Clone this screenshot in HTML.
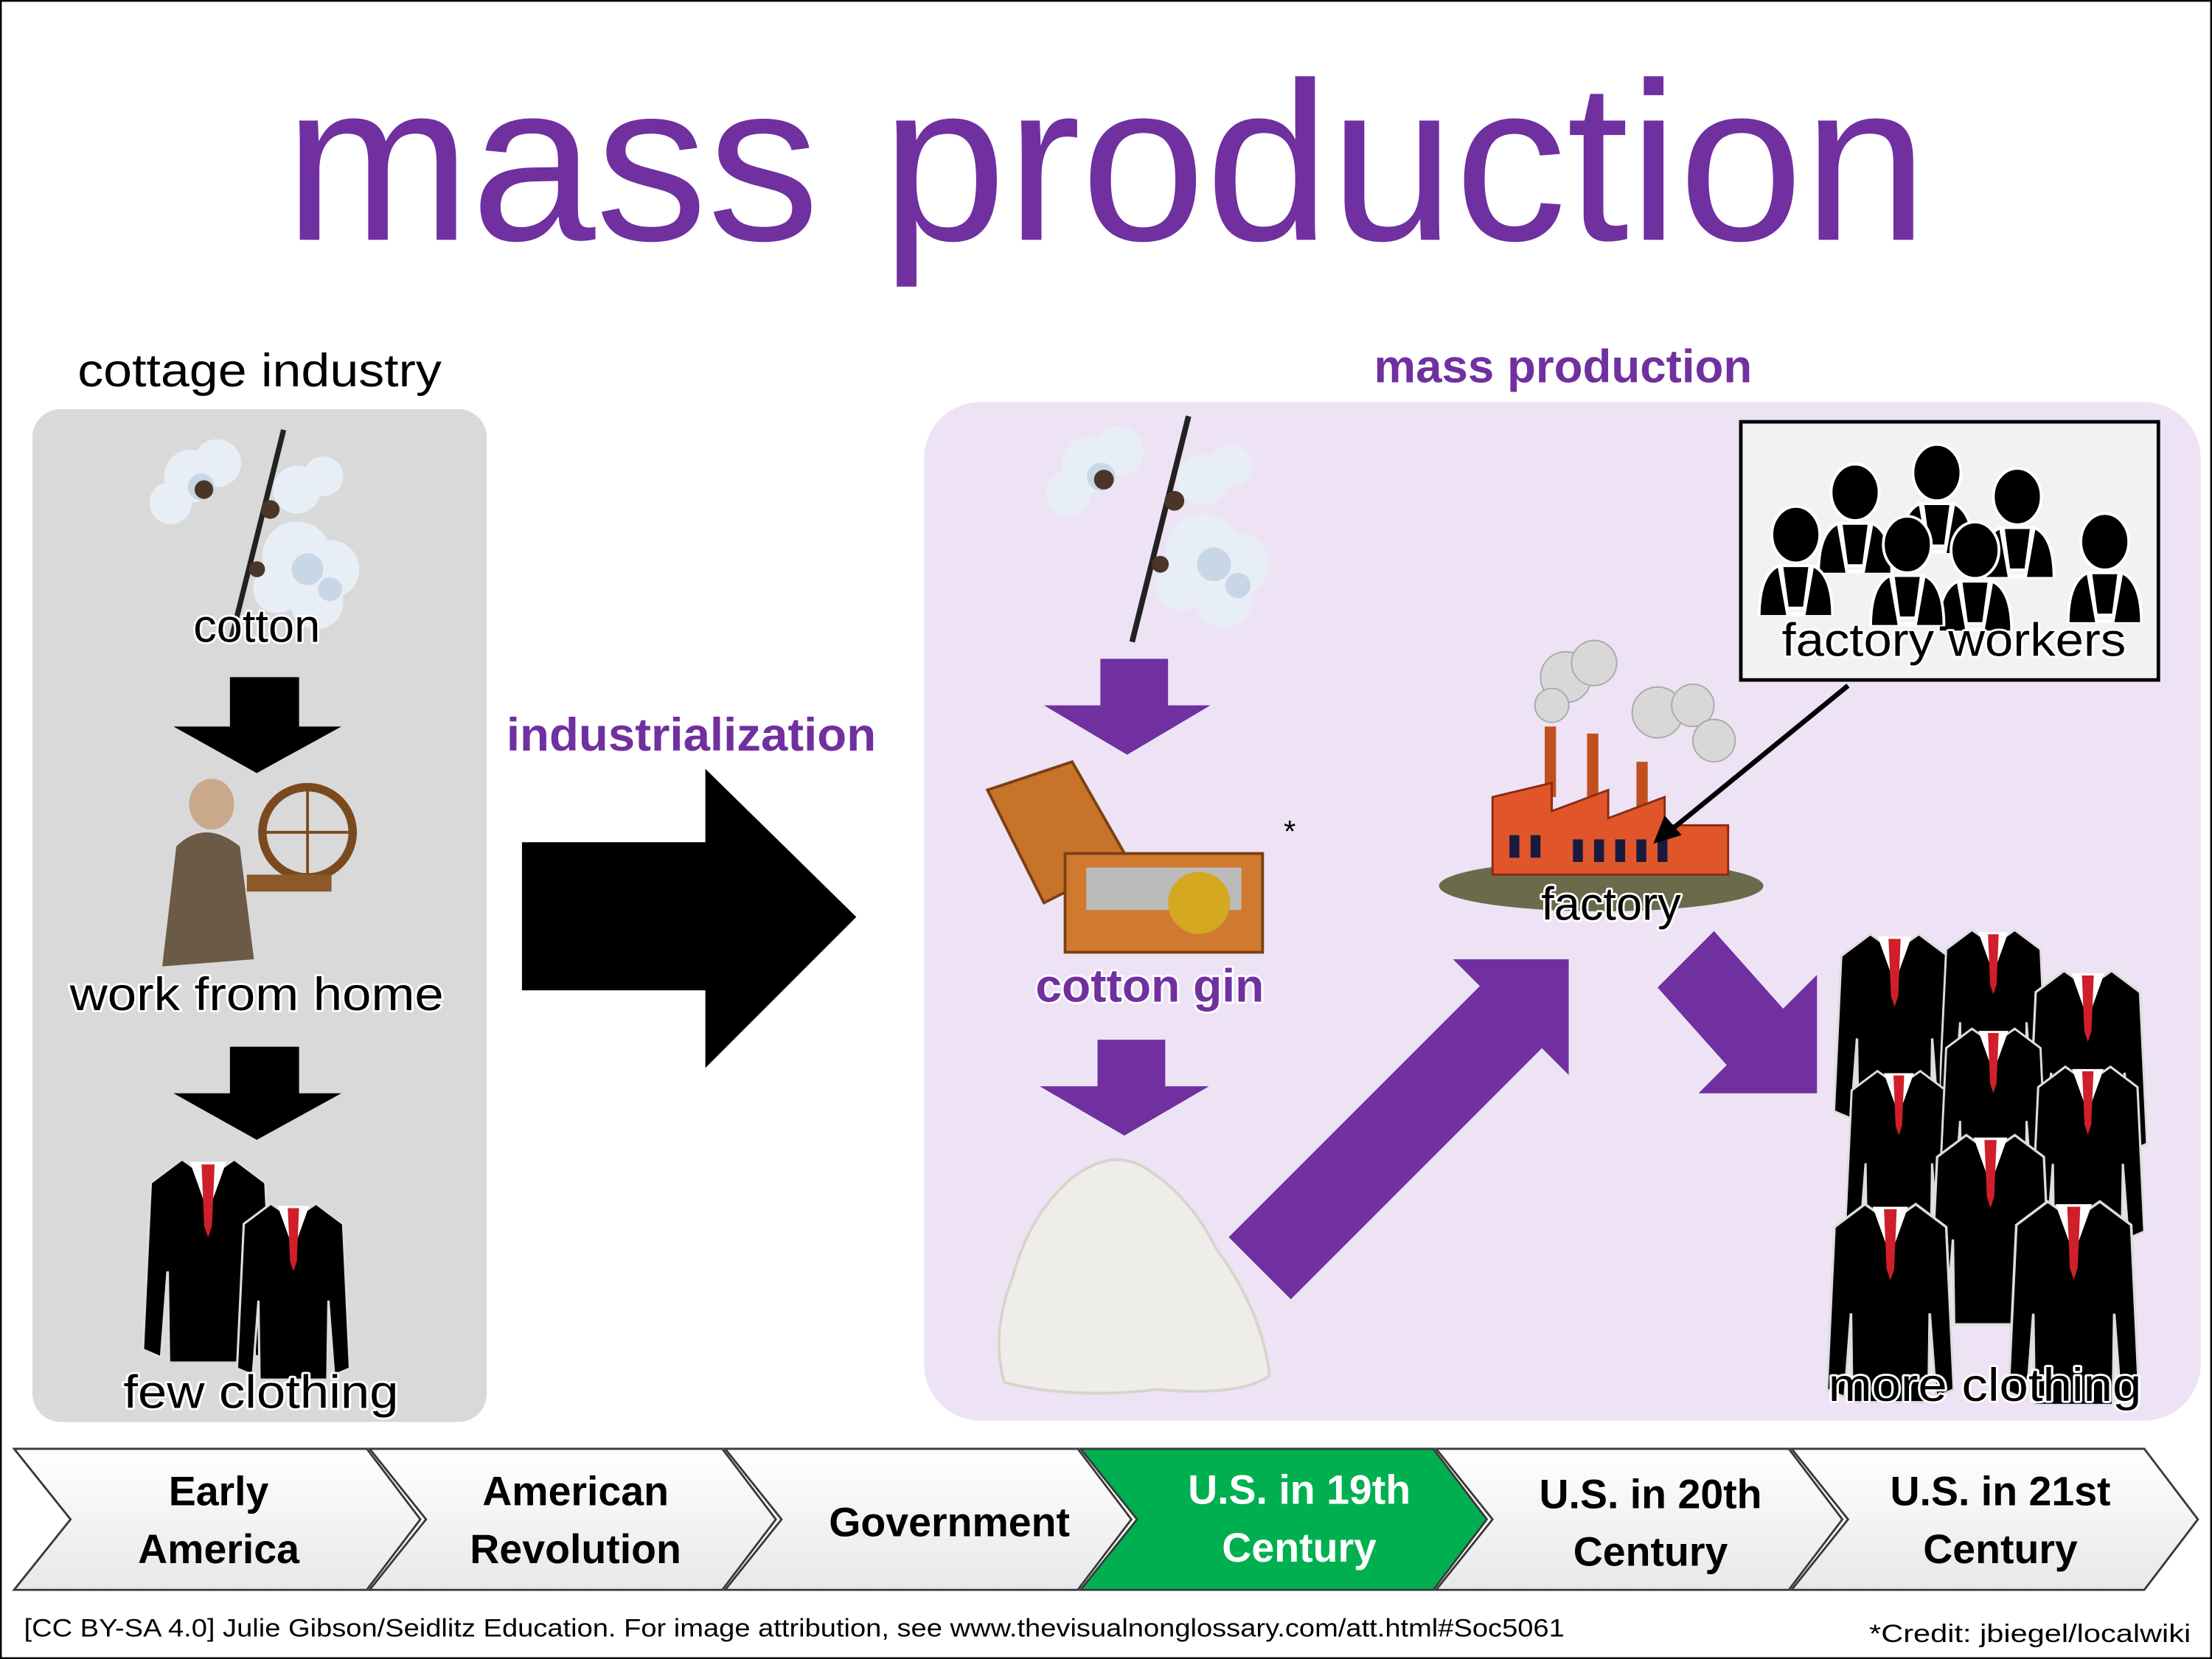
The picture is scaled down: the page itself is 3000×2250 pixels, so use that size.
<!DOCTYPE html>
<html><head><meta charset="utf-8"><style>
html,body{margin:0;padding:0;background:#fff}
svg{display:block}
text{font-family:"Liberation Sans",sans-serif}
.glow{paint-order:stroke;stroke:#fff;stroke-width:3;stroke-linejoin:round}
</style></head><body>
<svg width="3000" height="2250" viewBox="0 0 1568 1176" preserveAspectRatio="none" xmlns="http://www.w3.org/2000/svg">
<defs>
<symbol id="jacket" viewBox="0 0 100 160">
<path d="M30,4 L50,18 L70,4 L94,22 L100,150 L86,156 L81,90 L80,160 L20,160 L19,90 L14,156 L0,150 L6,22 Z" fill="#000" stroke="#ddd" stroke-width="2"/>
<path d="M36,6 L64,6 L50,45 Z" fill="#fff"/>
<path d="M45,8 L55,8 L53,55 L50,64 L47,55 Z" fill="#D01F2A"/>
</symbol>
<symbol id="person" viewBox="0 0 60 80">
<ellipse cx="30" cy="22" rx="17" ry="20" fill="#000" stroke="#fff" stroke-width="2"/>
<path d="M4,80 Q4,50 18,44 L24,78 L36,78 L42,44 Q56,50 56,80 Z" fill="#000" stroke="#fff" stroke-width="2"/>
<path d="M20,44 L40,44 L36,74 L24,74 Z" fill="#000" stroke="#fff" stroke-width="2"/>
</symbol>
<symbol id="cotton" viewBox="0 0 170 170">
<line x1="110" y1="5" x2="70" y2="165" stroke="#222" stroke-width="4"/>
<g fill="#E8EEF6">
<circle cx="40" cy="40" r="20"/><circle cx="60" cy="30" r="18"/><circle cx="25" cy="60" r="16"/>
<circle cx="120" cy="50" r="18"/><circle cx="140" cy="40" r="15"/>
<circle cx="120" cy="100" r="26"/><circle cx="145" cy="110" r="22"/><circle cx="135" cy="135" r="20"/><circle cx="105" cy="125" r="18"/>
</g>
<g fill="#C9D6E6"><circle cx="48" cy="48" r="10"/><circle cx="128" cy="110" r="12"/><circle cx="145" cy="125" r="9"/></g>
<g fill="#4a3528"><circle cx="50" cy="50" r="7"/><circle cx="100" cy="65" r="7"/><circle cx="90" cy="110" r="6"/></g>
</symbol>
</defs>
<rect x="0.5" y="0.5" width="1567" height="1175" fill="#fff" stroke="#000" stroke-width="1.5"/>
<text x="784" y="170" font-size="160" fill="#7030A0" text-anchor="middle" textLength="1165" lengthAdjust="spacingAndGlyphs">mass production</text>

<rect x="23" y="290" width="322" height="718" rx="20" fill="#D9D9D9"/>
<text x="184" y="274" font-size="33" text-anchor="middle" textLength="258" lengthAdjust="spacingAndGlyphs">cottage industry</text>
<use href="#cotton" x="95" y="300" width="165" height="160"/>
<text x="182" y="455" font-size="33" text-anchor="middle" class="glow">cotton</text>
<polygon points="163,480 212,480 212,515 242,515 182,548 123,515 163,515" fill="#000"/>
<g>
<circle cx="218" cy="590" r="32" fill="none" stroke="#7a4a1e" stroke-width="6"/>
<line x1="186" y1="590" x2="250" y2="590" stroke="#7a4a1e" stroke-width="2"/>
<line x1="218" y1="558" x2="218" y2="622" stroke="#7a4a1e" stroke-width="2"/>
<rect x="175" y="620" width="60" height="12" fill="#8a5a2a"/>
<ellipse cx="150" cy="570" rx="16" ry="18" fill="#c9a98a"/>
<path d="M125,600 Q145,580 170,600 L180,680 L115,685 Z" fill="#6b5a45"/>
</g>
<text x="182" y="716" font-size="33" text-anchor="middle" textLength="265" lengthAdjust="spacingAndGlyphs" class="glow">work from home</text>
<polygon points="163,742 212,742 212,775 242,775 182,808 123,775 163,775" fill="#000"/>
<use href="#jacket" x="100" y="818" width="95" height="148"/>
<use href="#jacket" x="158" y="850" width="100" height="128"/>
<text x="185" y="998" font-size="33" text-anchor="middle" textLength="195" lengthAdjust="spacingAndGlyphs" class="glow">few clothing</text>

<text x="490" y="532" font-size="33" font-weight="bold" fill="#7030A0" text-anchor="middle" textLength="262" lengthAdjust="spacingAndGlyphs">industrialization</text>
<polygon points="370,597 500,597 500,545 607,650 500,757 500,702 370,702" fill="#000"/>

<rect x="655" y="285" width="905" height="722" rx="40" fill="#EDE3F5"/>
<text x="1108" y="271" font-size="33" font-weight="bold" fill="#7030A0" text-anchor="middle" textLength="268" lengthAdjust="spacingAndGlyphs">mass production</text>
<use href="#cotton" x="730" y="290" width="175" height="170"/>
<polygon points="780,467 828,467 828,500 858,500 799,535 740,500 780,500" fill="#7030A0"/>
<g>
<polygon points="700,560 760,540 800,610 740,640" fill="#C8732A" stroke="#7a4010" stroke-width="2"/>
<rect x="755" y="605" width="140" height="70" fill="#D07A30" stroke="#7a4010" stroke-width="2"/>
<rect x="770" y="615" width="110" height="30" fill="#bbb"/>
<circle cx="850" cy="640" r="22" fill="#D4A820"/>
</g>
<text x="910" y="597" font-size="22">*</text>
<text x="815" y="710" font-size="33" font-weight="bold" fill="#7030A0" text-anchor="middle" textLength="162" lengthAdjust="spacingAndGlyphs" class="glow">cotton gin</text>
<polygon points="778,737 826,737 826,770 857,770 797,805 737,770 778,770" fill="#7030A0"/>
<path d="M712,980 Q702,945 718,905 Q730,860 760,835 Q790,812 815,830 Q845,850 862,885 Q895,930 900,975 Q880,990 820,985 Q760,992 712,980 Z" fill="#EEEDEA" stroke="#d8d4cc" stroke-width="2"/>
<polygon points="871,877 1049,699 1030,680 1112,680 1112,762 1093,743 915,921" fill="#7030A0"/>
<polygon points="1175,700 1215,660 1264,715 1288,691 1288,775 1204,775 1224,755" fill="#7030A0"/>

<g>
<ellipse cx="1135" cy="628" rx="115" ry="18" fill="#6b6a4a"/>
<g fill="#d8d8d8" stroke="#aaa" stroke-width="1">
<circle cx="1110" cy="480" r="18"/><circle cx="1130" cy="470" r="16"/><circle cx="1175" cy="505" r="18"/><circle cx="1200" cy="500" r="15"/><circle cx="1215" cy="525" r="15"/><circle cx="1100" cy="500" r="12"/>
</g>
<rect x="1095" y="515" width="8" height="50" fill="#c0501f"/>
<rect x="1125" y="520" width="8" height="50" fill="#c0501f"/>
<rect x="1160" y="540" width="8" height="40" fill="#c0501f"/>
<polygon points="1058,565 1100,555 1100,575 1140,560 1140,580 1180,565 1180,585 1225,585 1225,620 1058,620" fill="#E0562A" stroke="#8a2a10" stroke-width="1.5"/>
<g fill="#1a1a40"><rect x="1070" y="592" width="7" height="16"/><rect x="1085" y="592" width="7" height="16"/><rect x="1115" y="595" width="7" height="16"/><rect x="1130" y="595" width="7" height="16"/><rect x="1145" y="595" width="7" height="16"/><rect x="1160" y="595" width="7" height="16"/><rect x="1175" y="595" width="7" height="16"/></g>
</g>
<text x="1142" y="652" font-size="33" text-anchor="middle" class="glow">factory</text>

<rect x="1234" y="299" width="296" height="183" fill="#F2F2F2" stroke="#000" stroke-width="2.5"/>
<use href="#person" x="1343" y="313" width="60" height="80"/>
<use href="#person" x="1285" y="327" width="60" height="80"/>
<use href="#person" x="1400" y="330" width="60" height="80"/>
<use href="#person" x="1243" y="357" width="60" height="80"/>
<use href="#person" x="1462" y="362" width="60" height="80"/>
<use href="#person" x="1370" y="368" width="60" height="80"/>
<use href="#person" x="1322" y="364" width="60" height="80"/>
<text x="1385" y="465" font-size="33" text-anchor="middle" textLength="244" lengthAdjust="spacingAndGlyphs" class="glow">factory workers</text>
<line x1="1310" y1="486" x2="1185" y2="588" stroke="#000" stroke-width="3.5"/>
<polygon points="1172,598 1180,578 1192,592" fill="#000"/>

<use href="#jacket" x="1300" y="655" width="86" height="145"/>
<use href="#jacket" x="1375" y="652" width="76" height="130"/>
<use href="#jacket" x="1438" y="682" width="84" height="140"/>
<use href="#jacket" x="1308" y="752" width="76" height="130"/>
<use href="#jacket" x="1375" y="722" width="76" height="130"/>
<use href="#jacket" x="1440" y="752" width="80" height="130"/>
<use href="#jacket" x="1368" y="795" width="86" height="150"/>
<use href="#jacket" x="1295" y="848" width="90" height="148"/>
<use href="#jacket" x="1420" y="848" width="100" height="148"/>
<text x="1407" y="993" font-size="33" text-anchor="middle" textLength="222" lengthAdjust="spacingAndGlyphs" class="glow">more clothing</text>

<defs><linearGradient id="cg" x1="0" y1="0" x2="0" y2="1"><stop offset="0" stop-color="#fff"/><stop offset="1" stop-color="#e8e8e8"/></linearGradient></defs>
<g stroke="#3a3a3a" stroke-width="1.5">
<polygon points="10,1027 260,1027 298,1077 260,1127 10,1127 50,1077" fill="url(#cg)"/>
<polygon points="262,1027 512,1027 550,1077 512,1127 262,1127 302,1077" fill="url(#cg)"/>
<polygon points="514,1027 764,1027 802,1077 764,1127 514,1127 554,1077" fill="url(#cg)"/>
<polygon points="766,1027 1016,1027 1054,1077 1016,1127 766,1127 806,1077" fill="#00B050"/>
<polygon points="1018,1027 1268,1027 1306,1077 1268,1127 1018,1127 1058,1077" fill="url(#cg)"/>
<polygon points="1270,1027 1520,1027 1558,1077 1520,1127 1270,1127 1310,1077" fill="url(#cg)"/>
</g>
<g font-size="29" font-weight="bold" text-anchor="middle">
<text x="155" y="1067">Early</text><text x="155" y="1108">America</text>
<text x="408" y="1067">American</text><text x="408" y="1108">Revolution</text>
<text x="673" y="1089">Government</text>
<text x="921" y="1066" fill="#fff">U.S. in 19th</text><text x="921" y="1107" fill="#fff">Century</text>
<text x="1170" y="1069">U.S. in 20th</text><text x="1170" y="1110">Century</text>
<text x="1418" y="1067">U.S. in 21st</text><text x="1418" y="1108">Century</text>
</g>
<text x="17" y="1160" font-size="18" textLength="1092" lengthAdjust="spacingAndGlyphs">[CC BY-SA 4.0] Julie Gibson/Seidlitz Education. For image attribution, see www.thevisualnonglossary.com/att.html#Soc5061</text>
<text x="1553" y="1164" font-size="18" text-anchor="end" textLength="228" lengthAdjust="spacingAndGlyphs">*Credit: jbiegel/localwiki</text>
</svg>
</body></html>
